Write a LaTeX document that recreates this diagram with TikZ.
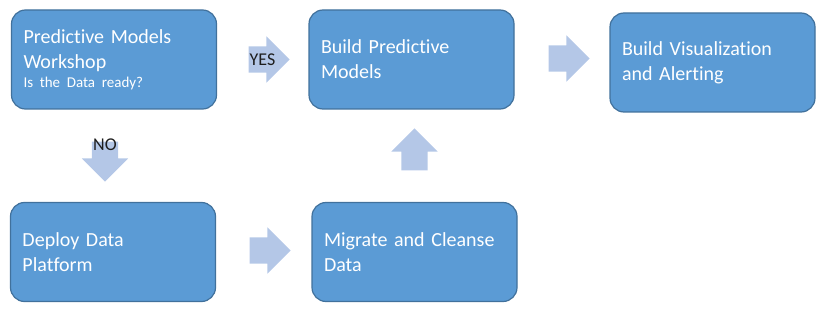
\documentclass[tikz,border=0pt]{standalone}
\usepackage{fontspec}
\setmainfont{Carlito}[Ligatures=NoCommon]
\usetikzlibrary{shapes.arrows}

\definecolor{boxblue}{RGB}{91,155,213}
\definecolor{boxedge}{RGB}{65,113,156}
\definecolor{arrowblue}{RGB}{180,199,231}
\definecolor{labelgray}{RGB}{30,30,30}

\begin{document}
\begin{tikzpicture}[
        x=1pt, y=-1pt,
        stage/.style={draw=boxedge, line width=1.2pt, fill=boxblue, rounded corners=14pt,
            text=white, align=left, text width=181pt, inner xsep=12pt, inner ysep=0pt,
            minimum height=99pt, font=\fontsize{20}{25}\selectfont},
        flow/.style={single arrow, draw=none, fill=arrowblue, inner sep=0pt,
            text height=26pt, text depth=0pt, minimum width=46pt, minimum height=41pt,
            single arrow head extend=10pt},
        answer/.style={text=labelgray, font=\fontsize{18}{18}\selectfont}
    ]

% Рамка рисунка
        \useasboundingbox (0,0) rectangle (828,310);

% Этапы
        \node[stage] (workshop) at (114,59.5) {Predictive Models\\Workshop\\[-6pt]{\fontsize{15}{19}\selectfont Is the Data ready?}};
        \node[stage] (build) at (411.5,59.5) {Build Predictive\\Models};
        \node[stage] (visual) at (712.5,62.5) {Build Visualization\\and Alerting};
        \node[stage] (deploy) at (113,252) {Deploy Data\\Platform};
        \node[stage] (migrate) at (414.5,252) {Migrate and Cleanse\\Data};

% Стрелки между этапами
        \node[flow] (yes) at (262.5,59.5) {};
        \node[flow, rotate=-90, minimum height=40pt] (no) at (105,155) {};
        \node[flow] (tomigrate) at (263.5,250.5) {};
        \node[flow, rotate=90, minimum height=42pt] (tobuild) at (414.5,156) {};
        \node[flow] (tovisual) at (562.5,58.5) {};

% Ответы на вопрос
        \node[answer] (yestext) at (yes.center) {YES};
        \node[answer, yshift=10pt] (notext) at (no.center) {NO};
    \end{tikzpicture}
\end{document}
